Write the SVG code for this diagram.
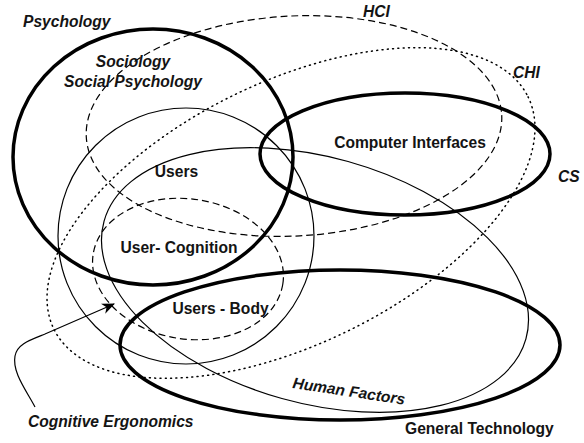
<svg xmlns="http://www.w3.org/2000/svg" width="584" height="443" viewBox="0 0 584 443">
<defs>
<style>
.thick{fill:none;stroke:#000;stroke-width:3.5}
.thin{fill:none;stroke:#000;stroke-width:1.2}
.dash{fill:none;stroke:#000;stroke-width:1.2;stroke-dasharray:7 4}
.dot{fill:none;stroke:#000;stroke-width:1.5;stroke-dasharray:1 4.3;stroke-linecap:round}
text{font-family:"Liberation Sans",Arial,Helvetica,sans-serif;font-weight:bold;font-size:15.6px;fill:#141414}
.it{font-style:italic}
.mid{text-anchor:middle}
</style>
<marker id="ah" viewBox="0 0 12 10" refX="11" refY="5" markerWidth="13" markerHeight="11" markerUnits="userSpaceOnUse" orient="auto">
<path d="M0,0 L12,5 L0,10 L3.5,5 Z" fill="#000"/>
</marker>
</defs>
<rect width="584" height="443" fill="#fff"/>

<g id="psychology">
<ellipse class="thick" cx="153" cy="157" rx="140" ry="128"/>
<text class="it" x="23" y="27">Psychology</text>
</g>

<g id="hci">
<ellipse class="dash" cx="294" cy="126" rx="208" ry="110" transform="rotate(-3 294 126)"/>
<text class="it" x="363" y="17">HCI</text>
</g>

<g id="sociology">
<text class="it mid" x="133" y="67">Sociology</text>
<text class="it mid" x="133" y="87">Social Psychology</text>
</g>

<g id="chi">
<ellipse class="dot" cx="291" cy="213" rx="264" ry="131" transform="rotate(-26.1 291 213)"/>
<text class="it" x="513" y="78">CHI</text>
</g>

<g id="cs">
<ellipse class="thick" cx="405" cy="154" rx="145" ry="61"/>
<text class="mid" x="410" y="148">Computer Interfaces</text>
<text class="it" x="558" y="182">CS</text>
</g>

<g id="users">
<circle class="thin" cx="186" cy="236" r="128"/>
<text class="mid" x="176.5" y="177">Users</text>
</g>

<g id="human-factors">
<ellipse class="thin" cx="315" cy="280" rx="219" ry="123" transform="rotate(15.6 315 280)"/>
<text class="it" x="292" y="388" transform="rotate(8.5 292 388)">Human Factors</text>
</g>

<g id="user-cognition">
<ellipse class="dash" cx="188" cy="269" rx="96" ry="70" transform="rotate(9 188 269)"/>
<text class="mid" x="179" y="253">User- Cognition</text>
</g>

<g id="users-body">
<text class="mid" x="220.5" y="314">Users - Body</text>
</g>

<g id="general-technology">
<ellipse class="thick" cx="340" cy="345" rx="220" ry="75"/>
<text x="405" y="434">General Technology</text>
</g>

<g id="cognitive-ergonomics">
<text class="it" x="28" y="427">Cognitive Ergonomics</text>
</g>

<g id="connectors">
<path class="thin" d="M35,407 C26,390 12,372 15,356 C17,344 30,340 45,334 L114,304" marker-end="url(#ah)"/>
</g>
</svg>
